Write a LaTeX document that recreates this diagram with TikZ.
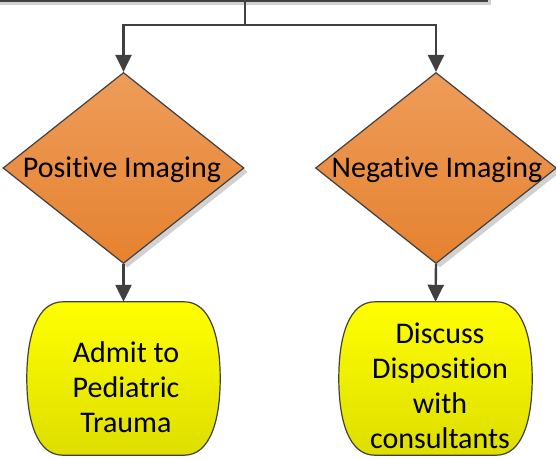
\documentclass[tikz,border=0pt]{standalone}
\usepackage{fontspec}
\setmainfont{Carlito}[Ligatures={NoCommon}]
\usetikzlibrary{shapes.geometric,arrows.meta,shadows,calc}
\definecolor{linegray}{HTML}{404040}
\definecolor{orangetop}{HTML}{EE9C5A}
\definecolor{orangebot}{HTML}{E5822F}
\definecolor{yellowtop}{HTML}{FFFF00}
\definecolor{yellowbot}{HTML}{DEDE00}
\newcommand\blobshape[1]{%
  ($(#1.north west)+(36,0)$) -- ($(#1.north east)+(-36,0)$)
  .. controls ($(#1.north east)+(-10,0)$) and ($(#1.east)+(0,-42)$) .. (#1.east)
  .. controls ($(#1.east)+(0,42)$) and ($(#1.south east)+(-10,0)$) .. ($(#1.south east)+(-36,0)$)
  -- ($(#1.south west)+(36,0)$)
  .. controls ($(#1.south west)+(10,0)$) and ($(#1.west)+(0,42)$) .. (#1.west)
  .. controls ($(#1.west)+(0,-42)$) and ($(#1.north west)+(10,0)$) .. ($(#1.north west)+(36,0)$)
  -- cycle}
\begin{document}
\begin{tikzpicture}[x=1pt,y=-1pt,
  conn/.style={draw=linegray,line width=2.4pt,-{Triangle[length=17pt,width=16pt]}},
  plainline/.style={draw=linegray,line width=2.4pt},
  softshadow/.style={drop shadow={shadow xshift=4pt,shadow yshift=-4pt,fill=black,opacity=0.18}},
  decision/.style={diamond,minimum width=241pt,minimum height=191pt,inner sep=0pt,
    draw=linegray,line width=1.2pt,top color=orangetop,bottom color=orangebot,softshadow},
  outcome/.style={rectangle,minimum width=193pt,minimum height=153pt,inner sep=0pt},
  blobfill/.style={draw=linegray,line width=1.2pt,top color=yellowtop,bottom color=yellowbot},
  blobshadow/.style={fill=black,opacity=0.18,xshift=4pt,yshift=-4pt},
  txt/.style={font=\fontsize{30}{35}\selectfont,align=center,inner sep=0pt},
  topbox/.style={rectangle,draw=linegray,line width=2pt,fill=white,minimum width=497pt,
    minimum height=61pt,inner sep=0pt,softshadow}]
\useasboundingbox (0,0) rectangle (556,458);
\clip (0,0) rectangle (556,458);
\node[topbox] (top) at (238.5,-29.5) {};
\coordinate (j) at (245,25);
\node[decision] (d1) at (123.5,168) {};
\node[decision] (d2) at (436,168) {};
\node[txt] (t1) at (122,170) {Positive Imaging};
\node[txt] (t2) at (437,170) {Negative Imaging};
\node[outcome] (b1) at (123.5,378.5) {};
\node[outcome] (b2) at (435.5,378.5) {};
\fill[blobshadow] \blobshape{b1};
\fill[blobshadow] \blobshape{b2};
\path[blobfill] \blobshape{b1};
\path[blobfill] \blobshape{b2};
\node[txt] (l1) at (126,387) {Admit to\\Pediatric\\Trauma};
\node[txt] (l2) at (440,386) {Discuss\\Disposition\\with\\consultants};
\draw[plainline] (top.south -| j) -- (j);
\draw[conn] (j) -| (d1.north);
\draw[conn] (j) -| (d2.north);
\draw[conn] (d1.south) -- (b1.north);
\draw[conn] (d2.south) -- (b2.north);
\end{tikzpicture}
\end{document}
